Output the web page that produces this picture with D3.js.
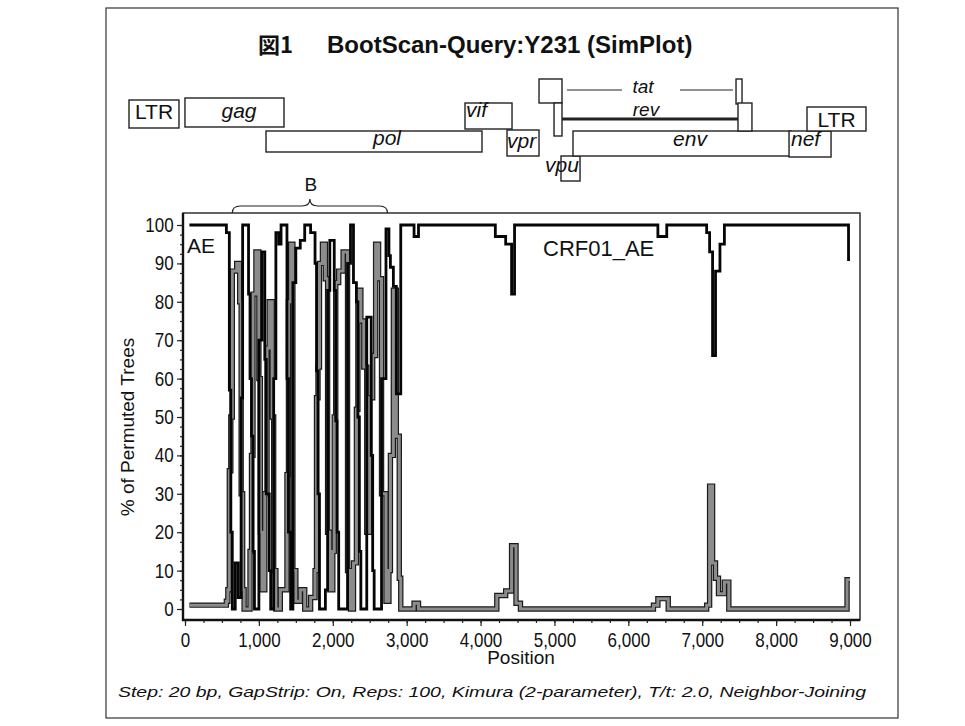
<!DOCTYPE html>
<html>
<head>
<meta charset="utf-8">
<script src="https://cdn.jsdelivr.net/npm/d3@7"></script>
<style>
  body { margin: 0; background: #fff; }
  svg { display: block; }
  text { font-family: "Liberation Sans", Arial, sans-serif; fill: #111; }
</style>
</head>
<body>
<svg id="grafico"></svg>
<script>
// séries do bootscan: [posição (bp), % de árvores]
const serieAE = [[60,100],[540,100],[560,98],[600,57],[620,20],[640,0],[680,12],[720,3],[760,55],[780,100],[860,82],[880,60],[900,45],[920,15],[940,0],[1000,70],[1040,93],[1080,65],[1100,30],[1140,10],[1160,0],[1200,60],[1230,98],[1270,95],[1300,100],[1380,60],[1400,20],[1430,0],[1460,85],[1500,94],[1560,96],[1620,100],[1700,98],[1760,90],[1780,62],[1800,30],[1820,0],[1900,5],[1930,83],[1960,96],[2020,83],[2040,49],[2060,20],[2080,0],[2200,90],[2240,100],[2280,85],[2320,80],[2340,50],[2360,15],[2380,0],[2460,76],[2520,40],[2540,10],[2560,0],[2660,60],[2720,99],[2760,92],[2780,89],[2820,84],[2860,56],[2920,100],[3100,97],[3160,100],[4200,97],[4340,95],[4420,82],[4460,100],[6400,97],[6520,100],[7060,98],[7100,93],[7140,66],[7180,88],[7240,95],[7300,100],[8980,91],[9000,91]];

const serieB = [[60,1],[540,1],[560,2],[580,5],[600,36],[620,50],[640,88],[700,90],[740,80],[760,30],[780,5],[800,0],[880,15],[900,40],[920,82],[960,93],[1000,60],[1020,20],[1040,5],[1080,30],[1110,68],[1140,80],[1180,50],[1200,10],[1230,0],[1290,5],[1380,35],[1400,80],[1430,95],[1460,10],[1500,2],[1560,5],[1620,0],[1700,3],[1760,10],[1780,55],[1800,63],[1820,90],[1860,95],[1900,86],[1930,20],[1960,5],[2000,15],[2020,50],[2040,85],[2080,88],[2140,93],[2200,10],[2240,0],[2280,12],[2320,52],[2340,83],[2380,75],[2420,63],[2460,20],[2500,55],[2540,66],[2580,95],[2620,86],[2660,30],[2720,2],[2760,10],[2780,40],[2820,83],[2860,45],[2900,8],[2920,0],[3100,1.5],[3160,0],[4220,3.5],[4340,4.7],[4420,16.5],[4480,1.5],[4540,0],[6340,1],[6400,2.7],[6540,0],[7060,1],[7100,32],[7140,12],[7180,8],[7220,4],[7300,7],[7360,0],[8960,7.6],[9000,7.6]];

// marcas dos eixos
const ticksX = [0,1000,2000,3000,4000,5000,6000,7000,8000,9000];
const ticksY = [0,10,20,30,40,50,60,70,80,90,100];

// mapa do genoma (bp no mapa)
const genes = [
  {id:'LTR5', nome:'LTR', ini:0,    fim:659},
  {id:'gag',  nome:'gag', ini:738,  fim:2044},
  {id:'pol',  nome:'pol', ini:1807, fim:4655},
  {id:'vif',  nome:'vif', ini:4431, fim:5051},
  {id:'vpr',  nome:'vpr', ini:4985, fim:5407},
  {id:'tat1', nome:'',    ini:5407, fim:5710},
  {id:'rev1', nome:'',    ini:5605, fim:5710},
  {id:'vpu',  nome:'vpu', ini:5697, fim:5948},
  {id:'env',  nome:'env', ini:5855, fim:8730},
  {id:'tat2', nome:'',    ini:8005, fim:8084},
  {id:'rev2', nome:'',    ini:8031, fim:8215},
  {id:'nef',  nome:'nef', ini:8704, fim:9258},
  {id:'LTR3', nome:'LTR', ini:8941, fim:9719}
];
const ligacoes = [
  {id:'tat', ini:5776, fim:6501},
  {id:'tat', ini:7266, fim:7965},
  {id:'rev', ini:5710, fim:8031}
];
const regiaoB = [640, 2740];

// ---------- layout ----------
const largura = 965, altura = 726;
const svg = d3.select('#grafico').attr('width', largura).attr('height', altura);

// faixas verticais de cada caixa do mapa [topo, base]
const faixas = {LTR5:[100,128], gag:[98,127], pol:[131,152], vif:[103,129], vpr:[130,156],
  tat1:[79,103], rev1:[103,136], vpu:[156,181], env:[131,156], tat2:[79,104], rev2:[103,131],
  nef:[131,157], LTR3:[107,131]};
// rótulos: posição em bp, linha de base, âncora, itálico
const rotulos = {
  LTR5:{p:330, y:119, a:'middle', it:false}, gag:{p:1451, y:118, a:'middle', it:true},
  pol:{p:3402, y:145, a:'middle', it:true}, vif:{p:4444, y:117, a:'start', it:true},
  vpr:{p:4985, y:148, a:'start', it:true}, vpu:{p:5486, y:172, a:'start', it:true},
  env:{p:7398, y:146, a:'middle', it:true}, nef:{p:8730, y:146, a:'start', it:true},
  LTR3:{p:9330, y:127, a:'middle', it:false}
};

// moldura externa
svg.append('rect').attr('x', 106).attr('y', 8).attr('width', 792).attr('height', 710)
  .attr('fill', 'none').attr('stroke', '#333').attr('stroke-width', 1.2);

// título
svg.append('text').attr('x', 258).attr('y', 53)
  .style('font-family', '"Noto Sans CJK JP", sans-serif').style('font-weight', 'bold').style('font-size', '22px')
  .text('図1');
svg.append('text').attr('x', 327).attr('y', 53)
  .style('font-weight', 'bold').style('font-size', '24px')
  .text('BootScan-Query:Y231 (SimPlot)');

// ---------- mapa ----------
const xm = d3.scaleLinear().domain([0, 9719]).range([129, 866]);
const mapa = svg.append('g').attr('id', 'mapa');

mapa.selectAll('.gene').data(genes).enter().append('rect')
  .classed('gene', true)
  .attr('x', d => xm(d.ini))
  .attr('y', d => faixas[d.id][0])
  .attr('width', d => xm(d.fim) - xm(d.ini))
  .attr('height', d => faixas[d.id][1] - faixas[d.id][0])
  .attr('fill', '#fff').attr('stroke', '#222').attr('stroke-width', 1.4);

mapa.selectAll('.lig').data(ligacoes).enter().append('line')
  .classed('lig', true)
  .attr('x1', d => xm(d.ini)).attr('x2', d => xm(d.fim))
  .attr('y1', d => d.id === 'tat' ? 90 : 119).attr('y2', d => d.id === 'tat' ? 90 : 119)
  .attr('stroke', '#222').attr('stroke-width', d => d.id === 'tat' ? 1 : 3);

mapa.selectAll('.rot').data(genes.filter(d => rotulos[d.id])).enter().append('text')
  .classed('rot', true)
  .attr('x', d => xm(rotulos[d.id].p))
  .attr('y', d => rotulos[d.id].y)
  .attr('text-anchor', d => rotulos[d.id].a)
  .style('font-style', d => rotulos[d.id].it ? 'italic' : 'normal')
  .style('font-size', '21px')
  .text(d => d.nome);

mapa.append('text').attr('x', 643).attr('y', 93).attr('text-anchor', 'middle')
  .style('font-style', 'italic').style('font-size', '19px').text('tat');
mapa.append('text').attr('x', 646).attr('y', 116).attr('text-anchor', 'middle')
  .style('font-style', 'italic').style('font-size', '19px').text('rev');

// ---------- gráfico ----------
const x = d3.scaleLinear().domain([0, 9000]).range([185, 850]);
const y = d3.scaleLinear().domain([0, 100]).range([609, 225]);
const quadro = {esq: 183, dir: 860, topo: 213, base: 620};

// chave sobre a região B
const bx0 = x(regiaoB[0]), bx1 = x(regiaoB[1]), bm = (bx0 + bx1) / 2;
svg.append('path')
  .attr('d', `M${bx0},213 Q${bx0},206 ${bx0 + 8},206 L${bm - 8},206 Q${bm},206 ${bm},199 Q${bm},206 ${bm + 8},206 L${bx1 - 8},206 Q${bx1},206 ${bx1},213`)
  .attr('fill', 'none').attr('stroke', '#222').attr('stroke-width', 1.2);
svg.append('text').attr('x', bm + 1).attr('y', 191).attr('text-anchor', 'middle')
  .style('font-size', '19px').text('B');

// séries
const linha = d3.line().x(d => x(d[0])).y(d => y(d[1])).curve(d3.curveStepAfter);
const plot = svg.append('g').attr('id', 'plotagem');
plot.append('path').attr('d', linha(serieB))
  .attr('fill', 'none').attr('stroke', '#1a1a1a').attr('stroke-width', 5.4);
plot.append('path').attr('d', linha(serieB))
  .attr('fill', 'none').attr('stroke', '#8c8c8c').attr('stroke-width', 3);
plot.append('path').attr('d', linha(serieAE))
  .attr('fill', 'none').attr('stroke', '#050505').attr('stroke-width', 2.8);

// quadro
svg.append('rect').attr('x', quadro.esq).attr('y', quadro.topo)
  .attr('width', quadro.dir - quadro.esq).attr('height', quadro.base - quadro.topo)
  .attr('fill', 'none').attr('stroke', '#222').attr('stroke-width', 1.4);
svg.append('path').attr('d', `M${quadro.esq},${quadro.topo} V${quadro.base} H${quadro.dir}`)
  .attr('fill', 'none').attr('stroke', '#111').attr('stroke-width', 2.4);

// eixos
const eixoX = svg.append('g').attr('transform', `translate(0,${quadro.base})`)
  .call(d3.axisBottom(x).tickValues(ticksX).tickFormat(d3.format(',')).tickSize(6).tickPadding(7));
eixoX.select('.domain').remove();
eixoX.selectAll('text').style('font-size', '20px').attr('transform', 'scale(0.85,1)');
svg.append('g').attr('transform', `translate(0,${quadro.base})`)
  .call(d3.axisBottom(x).tickValues(d3.range(0, 9001, 250)).tickFormat('').tickSize(3))
  .select('.domain').remove();

const eixoY = svg.append('g').attr('transform', `translate(${quadro.esq},0)`)
  .call(d3.axisLeft(y).tickValues(ticksY).tickSize(6).tickPadding(5));
eixoY.select('.domain').remove();
eixoY.selectAll('text').style('font-size', '20px').attr('transform', 'scale(0.85,1)');
svg.append('g').attr('transform', `translate(${quadro.esq},0)`)
  .call(d3.axisLeft(y).tickValues(d3.range(0, 100.1, 2.5)).tickFormat('').tickSize(3))
  .select('.domain').remove();
svg.selectAll('.tick line').attr('stroke', '#222').attr('stroke-width', 1.2);

// rótulos dos eixos e séries
svg.append('text').attr('x', 521).attr('y', 664).attr('text-anchor', 'middle')
  .style('font-size', '19px').text('Position');
svg.append('text').attr('transform', 'translate(134,427) rotate(-90)').attr('text-anchor', 'middle')
  .style('font-size', '19px').text('% of Permuted Trees');
svg.append('text').attr('x', 187).attr('y', 253).style('font-size', '21px').text('AE');
svg.append('text').attr('x', 543).attr('y', 256).style('font-size', '22px').text('CRF01_AE');

// rodapé
svg.append('text').attr('x', 118).attr('y', 697)
  .attr('textLength', 748).attr('lengthAdjust', 'spacingAndGlyphs')
  .style('font-style', 'italic').style('font-size', '15px')
  .text('Step: 20 bp, GapStrip: On, Reps: 100, Kimura (2-parameter), T/t: 2.0, Neighbor-Joining');
</script>
</body>
</html>
